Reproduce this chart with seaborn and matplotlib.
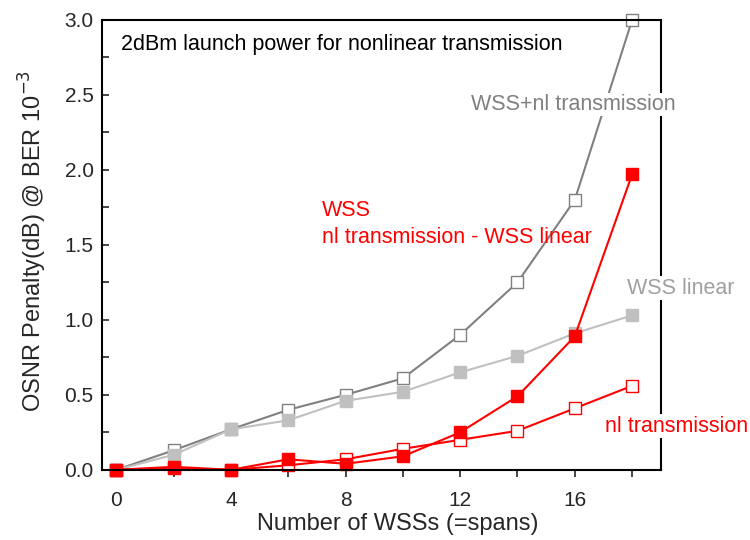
import numpy as np
import pandas as pd
import seaborn as sns
import matplotlib
matplotlib.use("Agg")
import matplotlib.pyplot as plt
from matplotlib.ticker import MultipleLocator

# number of WSSs (= spans)
n_wss = [0, 2, 4, 6, 8, 10, 12, 14, 16, 18]

# OSNR penalty (dB) @ BER 1e-3
wss_nl = [0.0, 0.13, 0.27, 0.40, 0.50, 0.61, 0.90, 1.25, 1.80, 3.0]
wss_linear = [0.0, 0.10, 0.27, 0.33, 0.46, 0.52, 0.65, 0.76, 0.91, 1.03]
nl_only = [0.0, 0.01, 0.0, 0.03, 0.07, 0.14, 0.20, 0.26, 0.41, 0.56]
wss_diff = [0.0, 0.02, 0.0, 0.07, 0.04, 0.09, 0.25, 0.49, 0.89, 1.97]

sns.set_style("ticks")
plt.rcParams['font.family'] = ['Liberation Sans', 'DejaVu Sans']

fig, ax = plt.subplots(figsize=(7.5, 5.4), dpi=100)
fig.subplots_adjust(left=0.136, right=0.881, bottom=0.13, top=0.963)

dark = '#808080'
light = '#c0c0c0'
red = '#ff0000'

# draw order matters: red filled ends up on top
series = [
    (wss_nl, dark, 'white'),
    (wss_linear, light, light),
    (nl_only, red, 'white'),
    (wss_diff, red, red),
]
for vals, col, face in series:
    df = pd.DataFrame({'n': n_wss, 'penalty': vals})
    sns.lineplot(data=df, x='n', y='penalty', ax=ax, color=col, marker='s',
                 markersize=9, markerfacecolor=face, markeredgecolor=col,
                 markeredgewidth=1.0, linewidth=1.5, errorbar=None, clip_on=False)

ax.set_xlim(-0.5, 19)
ax.set_ylim(0, 3.0)
ax.xaxis.set_major_locator(MultipleLocator(4))
ax.xaxis.set_minor_locator(MultipleLocator(2))
ax.yaxis.set_major_locator(MultipleLocator(0.5))
ax.yaxis.set_minor_locator(MultipleLocator(0.25))
yt = np.arange(0, 3.01, 0.5)
ax.set_yticks(yt)
ax.set_yticklabels([f'{v:.1f}' for v in yt])

ax.tick_params(axis='x', which='both', direction='out', length=5, width=1.2,
               labelsize=15, pad=10)
ax.tick_params(axis='y', which='both', direction='in', length=5, width=1.2,
               labelsize=15, pad=6)
for sp in ax.spines.values():
    sp.set_visible(True)
    sp.set_linewidth(1.5)
    sp.set_color('black')

ax.set_xlabel('Number of WSSs (=spans)', fontsize=17)
ax.set_ylabel('OSNR Penalty(dB) @ BER 10$^{-3}$', fontsize=17)
ax.xaxis.set_label_coords(0.529, -0.095)
ax.yaxis.set_label_coords(-0.095, 0.509)

box = dict(facecolor='white', edgecolor='none', pad=1)
fs = 15.5
ax.text(0.034, 0.945, '2dBm launch power for nonlinear transmission',
        transform=ax.transAxes, fontsize=fs, color='black', va='center')
ax.text(0.661, 0.812, 'WSS+nl transmission', transform=ax.transAxes,
        fontsize=fs, color=dark, va='center', clip_on=False, bbox=box)
ax.text(0.394, 0.547, 'WSS\nnl transmission - WSS linear', transform=ax.transAxes,
        fontsize=fs, color=red, va='center', linespacing=1.4)
ax.text(0.94, 0.404, 'WSS linear', transform=ax.transAxes,
        fontsize=fs, color='#a0a0a0', va='center', clip_on=False, bbox=box)
ax.text(0.90, 0.097, 'nl transmission', transform=ax.transAxes,
        fontsize=fs, color=red, va='center', clip_on=False, bbox=box)

fig.savefig('out.png', dpi=100)
